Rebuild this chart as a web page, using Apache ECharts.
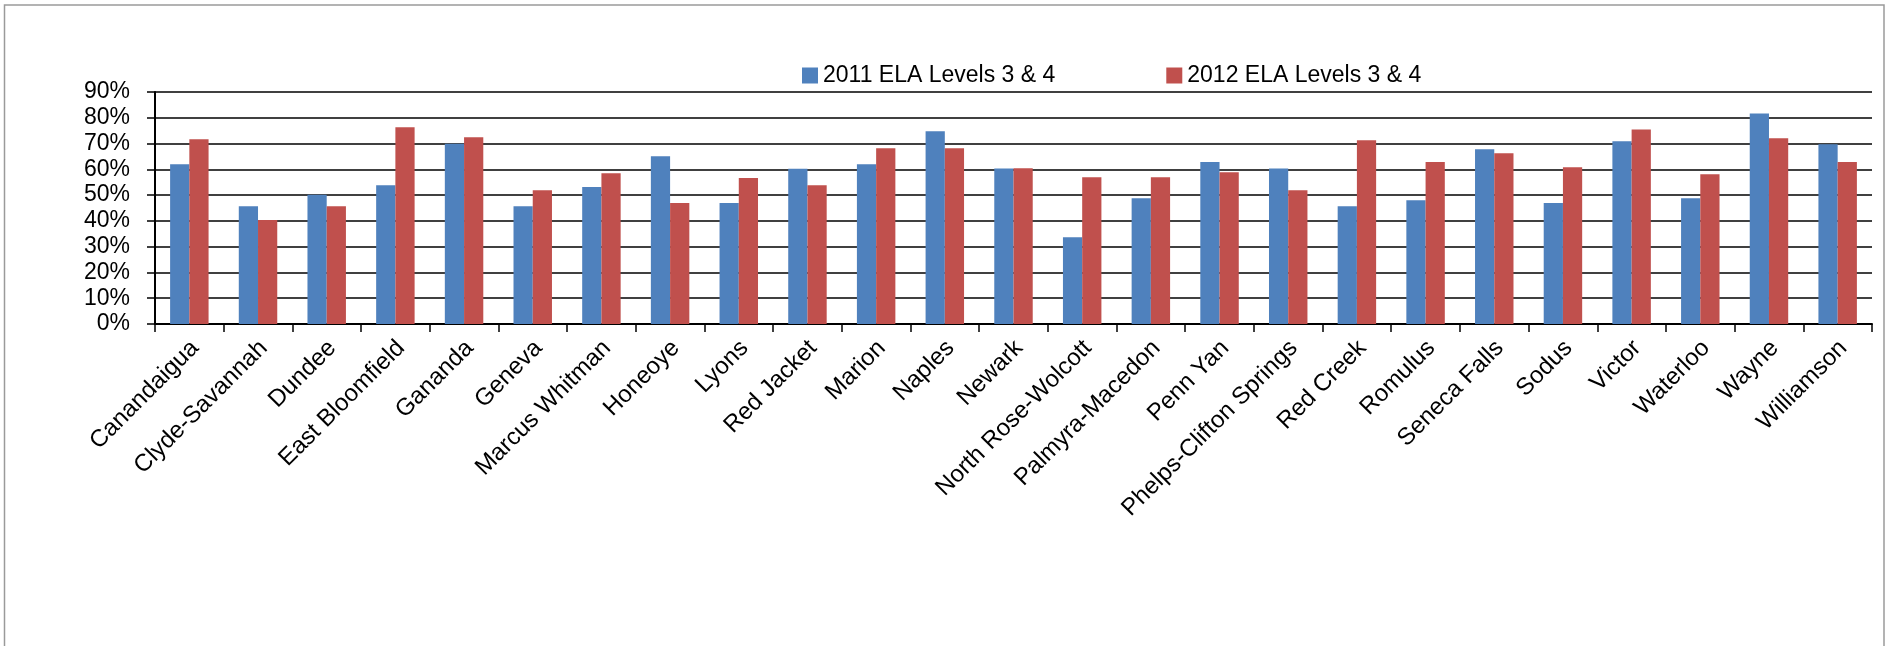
<!DOCTYPE html>
<html>
<head>
<meta charset="utf-8">
<style>
  html, body { margin: 0; padding: 0; background: #fff; }
  #chart { width: 1887px; height: 646px; }
</style>
<script src="https://cdn.jsdelivr.net/npm/echarts@6/dist/echarts.min.js"></script>
</head>
<body>
<div id="chart"></div>
<script>
const categories = ["Canandaigua", "Clyde-Savannah", "Dundee", "East Bloomfield", "Gananda", "Geneva", "Marcus Whitman", "Honeoye", "Lyons", "Red Jacket", "Marion", "Naples", "Newark", "North Rose-Wolcott", "Palmyra-Macedon", "Penn Yan", "Phelps-Clifton Springs", "Red Creek", "Romulus", "Seneca Falls", "Sodus", "Victor", "Waterloo", "Wayne", "Williamson"];
const seriesNames = ["2011 ELA Levels 3 & 4", "2012 ELA Levels 3 & 4"];
const ela2011 = [62.0, 45.7, 50.1, 53.8, 69.9, 45.7, 53.1, 65.1, 46.9, 60.2, 62.0, 74.8, 60.3, 33.7, 48.8, 62.8, 60.3, 45.7, 48.0, 67.8, 46.9, 70.9, 48.8, 81.7, 69.7];
const ela2012 = [71.7, 40.3, 45.7, 76.3, 72.4, 51.9, 58.5, 46.9, 56.6, 53.8, 68.2, 68.2, 60.4, 56.9, 56.9, 58.9, 51.9, 71.3, 62.8, 66.2, 60.8, 75.5, 58.1, 72.1, 62.8];
const yTicks = { min: 0, max: 90, interval: 10 };

const FONT = "'Liberation Sans', Arial, sans-serif";
const chart = echarts.init(document.getElementById('chart'), null, { renderer: 'canvas' });
chart.setOption({
  animation: false,
  backgroundColor: '#ffffff',
  color: ['#4F81BD', '#C0504D'],
  graphic: [{
    type: 'rect',
    shape: { x: 4.5, y: 5, width: 1879.5, height: 700 },
    style: { fill: 'none', stroke: '#9a9a9a', lineWidth: 1.5 },
    silent: true
  }],
  legend: {
    left: 797, top: 59,
    itemWidth: 16, itemHeight: 16, itemGap: 111,
    icon: 'rect',
    textStyle: { fontFamily: FONT, fontSize: 23, color: '#000' },
    data: seriesNames
  },
  grid: { left: 155, right: 15, top: 92, bottom: 322, containLabel: false },
  xAxis: {
    type: 'category',
    data: categories,
    axisLine: { lineStyle: { color: '#000', width: 2 } },
    axisTick: { show: true, length: 8, lineStyle: { color: '#000', width: 1.5 } },
    axisLabel: {
      interval: 0, rotate: 45, margin: 26,
      padding: [0, -8, 0, 0],
      fontFamily: FONT, fontSize: 24, color: '#000'
    },
    splitLine: { show: false }
  },
  yAxis: {
    type: 'value',
    min: yTicks.min, max: yTicks.max, interval: yTicks.interval,
    axisLine: { show: true, lineStyle: { color: '#000', width: 2 } },
    axisTick: { show: true, length: 8, lineStyle: { color: '#000', width: 1.5 } },
    axisLabel: { formatter: '{value}%', margin: 25, fontFamily: FONT, fontSize: 23, color: '#000' },
    splitLine: { show: true, lineStyle: { color: '#000', width: 1.5 } }
  },
  series: [
    { name: seriesNames[0], type: 'bar', data: ela2011, barGap: '0%', barCategoryGap: '44%' },
    { name: seriesNames[1], type: 'bar', data: ela2012, barGap: '0%', barCategoryGap: '44%' }
  ]
});
</script>
</body>
</html>
